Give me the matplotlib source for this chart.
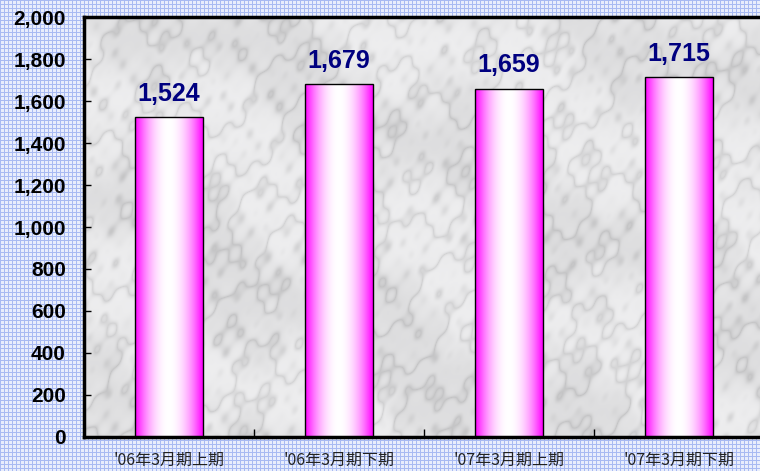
import numpy as np
import matplotlib
matplotlib.use("Agg")
import matplotlib.pyplot as plt
from matplotlib.patches import Rectangle

# ================== DATA ==================
categories = ["'06年3月期上期", "'06年3月期下期", "'07年3月期上期", "'07年3月期下期"]
values = [1524, 1679, 1659, 1715]
yticks = [0, 200, 400, 600, 800, 1000, 1200, 1400, 1600, 1800, 2000]

W, H = 760, 471
DPI = 100

fig = plt.figure(figsize=(W / DPI, H / DPI), dpi=DPI)

# --- blue grid-paper background (whole figure) ---
yy, xx = np.mgrid[0:H, 0:W]
cell = np.array([0.91, 0.93, 0.99])
line = np.array([0.66, 0.73, 0.95])
bg = np.empty((H, W, 3))
bg[:] = cell
mask = (xx % 4 == 0) | (yy % 4 == 0)
bg[mask] = line
bg_ax = fig.add_axes([0, 0, 1, 1], zorder=-1)
bg_ax.imshow(bg, aspect="auto", interpolation="nearest")
bg_ax.axis("off")

ax = fig.add_axes([84 / W, 34 / H, 680 / W, 420 / H], zorder=1)

# --- soft marble texture inside plot area (deterministic sines) ---
my, mx = np.mgrid[0:420, 0:680] / 45.0
warp = (np.sin(mx * 1.1 + my * 0.6) + 0.7 * np.sin(mx * 2.3 - my * 1.9 + 1.0)
        + 0.5 * np.sin(mx * 4.7 + my * 3.3 + 2.0) + 0.35 * np.sin(mx * 8.9 - my * 6.1 + 0.5)
        + 0.25 * np.sin(mx * 15.1 + my * 11.3 + 1.7))
veins = np.abs(np.sin((mx * 0.9 + my * 1.2) * 1.4 + 1.5 * warp))
clouds = 0.5 + 0.5 * np.sin(mx * 0.7 - my * 1.3 + 0.8 * warp)
shade = 0.93 - 0.06 * clouds - 0.10 * (1 - veins) ** 2
marble = np.clip(np.dstack([shade, shade, shade + 0.005]), 0, 1)
ax.imshow(marble, extent=(-0.5, 3.5, 0, 2000), aspect="auto", zorder=0,
          interpolation="bilinear")

# --- bars with magenta-white-magenta gradient ---
bar_w = 0.4
t = np.linspace(-1, 1, 200)
k = 1 - np.abs(t) ** 2.0
grad = np.zeros((1, len(t), 3))
grad[0, :, 0] = 1.0
grad[0, :, 1] = k
grad[0, :, 2] = 1.0
for i, v in enumerate(values):
    x0 = i - bar_w / 2
    rect = Rectangle((x0, 0), bar_w, v, facecolor="none", edgecolor="black",
                     linewidth=1.0, zorder=3)
    ax.add_patch(rect)
    im = ax.imshow(grad, extent=(x0, x0 + bar_w, 0, v), aspect="auto",
                   zorder=2, interpolation="bilinear")
    im.set_clip_path(rect)
    ax.annotate(f"{v:,}", (i, v), textcoords="offset points", xytext=(0, 8),
                ha="center", va="bottom", fontsize=18, fontweight="bold",
                color="#000080", family="Liberation Sans", zorder=4)

ax.set_xlim(-0.5, 3.5)
ax.set_ylim(0, 2000)

# ticks
ax.set_yticks(yticks)
ax.set_yticklabels([f"{y:,}" for y in yticks], fontsize=15, fontweight="bold",
                   family="Liberation Sans")
ax.tick_params(axis="y", direction="in", length=5, width=1, pad=13)

ax.set_xticks(range(len(categories)))
ax.set_xticklabels(categories, fontsize=11.5, color="#222222",
                   family=["Noto Sans CJK JP", "DejaVu Sans"])
ax.tick_params(axis="x", which="major", length=0, pad=11)
ax.set_xticks([0.5, 1.5, 2.5], minor=True)
ax.tick_params(axis="x", which="minor", direction="in", length=6, width=1)

for side in ["left", "bottom", "top"]:
    ax.spines[side].set_linewidth(2.5)
ax.spines["right"].set_visible(False)

fig.savefig("out.png", dpi=DPI)
